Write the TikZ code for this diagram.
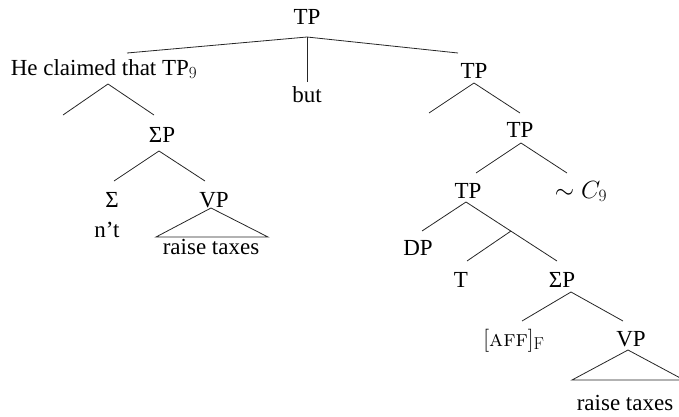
\documentclass[tikz,border=0pt]{standalone}
\usepackage[no-math]{fontspec}
\setmainfont{Liberation Serif}
\newcommand{\lmrm}{\fontfamily{lmr}\selectfont}
\begin{document}
\begin{tikzpicture}[x=1pt,y=-1pt,
  lab/.style={anchor=base,inner sep=0pt,font=\fontsize{23}{27}\selectfont},
  br/.style={line width=0.8pt,draw=black!85}]
\useasboundingbox (0,0) rectangle (679,416);
\clip (0,0) rectangle (679,416);
% nodes
\node[lab] (tp0) at (307,24) {TP};
\node[lab] (he) at (104,75) {He claimed that TP\textsubscript{\lmrm\fontsize{17}{20}\selectfont 9}};
\node[lab] (but) at (307,102) {but};
\node[lab] (sp1) at (162,142) {ΣP};
\node[lab] (sig) at (112,207) {Σ};
\node[lab] (nt) at (107,237) {n’t};
\node[lab] (vp1) at (214,207) {VP};
\node[lab] (rt1) at (211,254) {raise taxes};
\node[lab] (tp1) at (474,78) {TP};
\node[lab] (tp2) at (520,137) {TP};
\node[lab] (tp3) at (468,198) {TP};
\node[lab] (c9) at (581,198) {$\sim C_9$};
\node[lab] (dp) at (418,255) {DP};
\node[lab] (t) at (461,287) {T};
\node[lab] (sp2) at (562,287) {ΣP};
\node[lab] (aff) at (514,346) {{\lmrm[\textsc{aff}]}$_{\mathrm{F}}$};
\node[lab] (vp2) at (631,346) {VP};
\node[lab] (rt2) at (625,410) {raise taxes};
% coordinates
\coordinate (a0) at (307,37);
\coordinate (a0l) at (127,53);
\coordinate (a0m) at (307,82);
\coordinate (a0r) at (458,53);
\coordinate (a1) at (108,84);
\coordinate (a1l) at (63,115);
\coordinate (a1r) at (154,115);
\coordinate (a2) at (159,151);
\coordinate (a2l) at (114,181);
\coordinate (a2r) at (205,181);
\coordinate (v1) at (211,208);
\coordinate (v1l) at (156,237);
\coordinate (v1r) at (268,237);
\coordinate (a3) at (474,83);
\coordinate (a3l) at (429,113);
\coordinate (a3r) at (520,113);
\coordinate (a4) at (521,143);
\coordinate (a4l) at (476,173);
\coordinate (a4r) at (567,173);
\coordinate (a5) at (466,202);
\coordinate (a5l) at (422,231);
\coordinate (a5r) at (557,261);
\coordinate (a6) at (511,231);
\coordinate (a6l) at (467,261);
\coordinate (a7) at (571,292);
\coordinate (a7l) at (522,321);
\coordinate (a7r) at (623,321);
\coordinate (v2) at (628,350);
\coordinate (v2l) at (572,380);
\coordinate (v2r) at (684,380);
% branches
\draw[br] (a0l) -- (a0) -- (a0r);
\draw[br] (a0) -- (a0m);
\draw[br] (a1l) -- (a1) -- (a1r);
\draw[br] (a2l) -- (a2) -- (a2r);
\draw[br] (v1l) -- (v1) -- (v1r) -- cycle;
\draw[br] (a3l) -- (a3) -- (a3r);
\draw[br] (a4l) -- (a4) -- (a4r);
\draw[br] (a5l) -- (a5) -- (a5r);
\draw[br] (a6) -- (a6l);
\draw[br] (a7l) -- (a7) -- (a7r);
\draw[br] (v2l) -- (v2) -- (v2r) -- cycle;
\end{tikzpicture}
\end{document}
